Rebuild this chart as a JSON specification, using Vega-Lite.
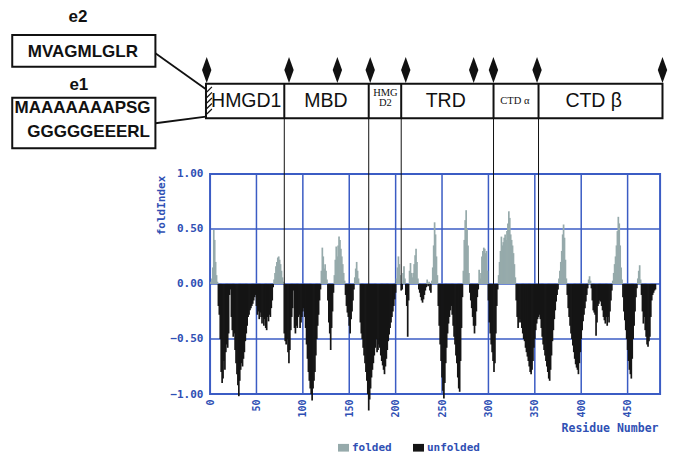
{
"$schema": "https://vega.github.io/schema/vega-lite/v6.json",
"width": 679, "height": 394,
"autosize": {"type": "none"},
"padding": {"left": 0, "top": 0, "right": 0, "bottom": 65},
"background": "white",
"config": {"view": {"stroke": null}},
"datasets": {
"fold": [
{"r":1,"v":0.02,"s":"folded"},{"r":2,"v":0.05,"s":"folded"},{"r":3,"v":0.15,"s":"folded"},{"r":4,"v":0.49,"s":"folded"},{"r":5,"v":0.4,"s":"folded"},{"r":6,"v":0.2,"s":"folded"},{"r":7,"v":0.08,"s":"folded"},{"r":8,"v":0.02,"s":"folded"},{"r":9,"v":-0.2,"s":"unfolded"},{"r":10,"v":-0.28,"s":"unfolded"},
{"r":11,"v":-0.5,"s":"unfolded"},{"r":12,"v":-0.8,"s":"unfolded"},{"r":13,"v":-0.9,"s":"unfolded"},{"r":14,"v":-0.86,"s":"unfolded"},{"r":15,"v":-0.7,"s":"unfolded"},{"r":16,"v":-0.78,"s":"unfolded"},{"r":17,"v":-0.62,"s":"unfolded"},{"r":18,"v":-0.55,"s":"unfolded"},{"r":19,"v":-0.58,"s":"unfolded"},{"r":20,"v":-0.45,"s":"unfolded"},
{"r":21,"v":-0.1,"s":"unfolded"},{"r":22,"v":-0.05,"s":"unfolded"},{"r":23,"v":-0.3,"s":"unfolded"},{"r":24,"v":-0.42,"s":"unfolded"},{"r":25,"v":-0.48,"s":"unfolded"},{"r":26,"v":-0.45,"s":"unfolded"},{"r":27,"v":-0.6,"s":"unfolded"},{"r":28,"v":-0.72,"s":"unfolded"},{"r":29,"v":-0.82,"s":"unfolded"},{"r":30,"v":-0.92,"s":"unfolded"},
{"r":31,"v":-1.02,"s":"unfolded"},{"r":32,"v":-0.88,"s":"unfolded"},{"r":33,"v":-0.78,"s":"unfolded"},{"r":34,"v":-0.72,"s":"unfolded"},{"r":35,"v":-0.75,"s":"unfolded"},{"r":36,"v":-0.68,"s":"unfolded"},{"r":37,"v":-0.62,"s":"unfolded"},{"r":38,"v":-0.52,"s":"unfolded"},{"r":39,"v":-0.45,"s":"unfolded"},{"r":40,"v":-0.38,"s":"unfolded"},
{"r":41,"v":-0.3,"s":"unfolded"},{"r":42,"v":-0.28,"s":"unfolded"},{"r":43,"v":-0.24,"s":"unfolded"},{"r":44,"v":-0.22,"s":"unfolded"},{"r":45,"v":-0.2,"s":"unfolded"},{"r":46,"v":-0.18,"s":"unfolded"},{"r":47,"v":-0.15,"s":"unfolded"},{"r":48,"v":-0.12,"s":"unfolded"},{"r":49,"v":-0.1,"s":"unfolded"},{"r":50,"v":-0.2,"s":"unfolded"},
{"r":51,"v":-0.28,"s":"unfolded"},{"r":52,"v":-0.25,"s":"unfolded"},{"r":53,"v":-0.32,"s":"unfolded"},{"r":54,"v":-0.26,"s":"unfolded"},{"r":55,"v":-0.3,"s":"unfolded"},{"r":56,"v":-0.36,"s":"unfolded"},{"r":57,"v":-0.3,"s":"unfolded"},{"r":58,"v":-0.38,"s":"unfolded"},{"r":59,"v":-0.32,"s":"unfolded"},{"r":60,"v":-0.4,"s":"unfolded"},
{"r":61,"v":-0.42,"s":"unfolded"},{"r":62,"v":-0.3,"s":"unfolded"},{"r":63,"v":-0.34,"s":"unfolded"},{"r":64,"v":-0.28,"s":"unfolded"},{"r":65,"v":-0.3,"s":"unfolded"},{"r":66,"v":-0.22,"s":"unfolded"},{"r":67,"v":-0.15,"s":"unfolded"},{"r":68,"v":-0.03,"s":"unfolded"},{"r":69,"v":0.04,"s":"folded"},{"r":70,"v":0.1,"s":"folded"},
{"r":71,"v":0.16,"s":"folded"},{"r":72,"v":0.2,"s":"folded"},{"r":73,"v":0.24,"s":"folded"},{"r":74,"v":0.25,"s":"folded"},{"r":75,"v":0.22,"s":"folded"},{"r":76,"v":0.18,"s":"folded"},{"r":77,"v":0.12,"s":"folded"},{"r":78,"v":0.06,"s":"folded"},{"r":79,"v":0.02,"s":"folded"},{"r":80,"v":-0.45,"s":"unfolded"},
{"r":81,"v":-0.52,"s":"unfolded"},{"r":82,"v":-0.55,"s":"unfolded"},{"r":83,"v":-0.5,"s":"unfolded"},{"r":84,"v":-0.62,"s":"unfolded"},{"r":85,"v":-0.72,"s":"unfolded"},{"r":86,"v":-0.6,"s":"unfolded"},{"r":87,"v":-0.42,"s":"unfolded"},{"r":88,"v":-0.3,"s":"unfolded"},{"r":89,"v":-0.22,"s":"unfolded"},{"r":90,"v":-0.06,"s":"unfolded"},
{"r":91,"v":-0.4,"s":"unfolded"},{"r":92,"v":-0.45,"s":"unfolded"},{"r":93,"v":-0.38,"s":"unfolded"},{"r":94,"v":-0.4,"s":"unfolded"},{"r":95,"v":-0.3,"s":"unfolded"},{"r":96,"v":-0.28,"s":"unfolded"},{"r":97,"v":-0.4,"s":"unfolded"},{"r":98,"v":-0.35,"s":"unfolded"},{"r":99,"v":-0.3,"s":"unfolded"},{"r":100,"v":-0.25,"s":"unfolded"},
{"r":101,"v":-0.22,"s":"unfolded"},{"r":102,"v":-0.3,"s":"unfolded"},{"r":103,"v":-0.4,"s":"unfolded"},{"r":104,"v":-0.55,"s":"unfolded"},{"r":105,"v":-0.68,"s":"unfolded"},{"r":106,"v":-0.8,"s":"unfolded"},{"r":107,"v":-0.88,"s":"unfolded"},{"r":108,"v":-0.95,"s":"unfolded"},{"r":109,"v":-1.0,"s":"unfolded"},{"r":110,"v":-1.06,"s":"unfolded"},
{"r":111,"v":-0.95,"s":"unfolded"},{"r":112,"v":-0.88,"s":"unfolded"},{"r":113,"v":-0.8,"s":"unfolded"},{"r":114,"v":-0.65,"s":"unfolded"},{"r":115,"v":-0.5,"s":"unfolded"},{"r":116,"v":-0.38,"s":"unfolded"},{"r":117,"v":-0.28,"s":"unfolded"},{"r":118,"v":-0.15,"s":"unfolded"},{"r":119,"v":-0.05,"s":"unfolded"},{"r":120,"v":0.12,"s":"folded"},
{"r":121,"v":0.33,"s":"folded"},{"r":122,"v":0.25,"s":"folded"},{"r":123,"v":0.14,"s":"folded"},{"r":124,"v":0.18,"s":"folded"},{"r":125,"v":0.12,"s":"folded"},{"r":126,"v":0.04,"s":"folded"},{"r":127,"v":-0.15,"s":"unfolded"},{"r":128,"v":-0.35,"s":"unfolded"},{"r":129,"v":-0.45,"s":"unfolded"},{"r":130,"v":-0.6,"s":"unfolded"},
{"r":131,"v":-0.4,"s":"unfolded"},{"r":132,"v":-0.25,"s":"unfolded"},{"r":133,"v":-0.08,"s":"unfolded"},{"r":134,"v":0.08,"s":"folded"},{"r":135,"v":0.22,"s":"folded"},{"r":136,"v":0.34,"s":"folded"},{"r":137,"v":0.25,"s":"folded"},{"r":138,"v":0.35,"s":"folded"},{"r":139,"v":0.43,"s":"folded"},{"r":140,"v":0.4,"s":"folded"},
{"r":141,"v":0.32,"s":"folded"},{"r":142,"v":0.25,"s":"folded"},{"r":143,"v":0.18,"s":"folded"},{"r":144,"v":0.1,"s":"folded"},{"r":145,"v":0.03,"s":"folded"},{"r":146,"v":-0.1,"s":"unfolded"},{"r":147,"v":-0.2,"s":"unfolded"},{"r":148,"v":-0.26,"s":"unfolded"},{"r":149,"v":-0.3,"s":"unfolded"},{"r":150,"v":-0.38,"s":"unfolded"},
{"r":151,"v":-0.45,"s":"unfolded"},{"r":152,"v":-0.32,"s":"unfolded"},{"r":153,"v":-0.25,"s":"unfolded"},{"r":154,"v":-0.15,"s":"unfolded"},{"r":155,"v":-0.05,"s":"unfolded"},{"r":156,"v":0.06,"s":"folded"},{"r":157,"v":0.14,"s":"folded"},{"r":158,"v":0.2,"s":"folded"},{"r":159,"v":0.12,"s":"folded"},{"r":160,"v":0.05,"s":"folded"},
{"r":161,"v":0.01,"s":"folded"},{"r":162,"v":-0.35,"s":"unfolded"},{"r":163,"v":-0.45,"s":"unfolded"},{"r":164,"v":-0.5,"s":"unfolded"},{"r":165,"v":-0.58,"s":"unfolded"},{"r":166,"v":-0.65,"s":"unfolded"},{"r":167,"v":-0.72,"s":"unfolded"},{"r":168,"v":-0.8,"s":"unfolded"},{"r":169,"v":-0.88,"s":"unfolded"},{"r":170,"v":-1.0,"s":"unfolded"},
{"r":171,"v":-1.15,"s":"unfolded"},{"r":172,"v":-1.05,"s":"unfolded"},{"r":173,"v":-0.95,"s":"unfolded"},{"r":174,"v":-0.85,"s":"unfolded"},{"r":175,"v":-0.78,"s":"unfolded"},{"r":176,"v":-0.72,"s":"unfolded"},{"r":177,"v":-0.65,"s":"unfolded"},{"r":178,"v":-0.58,"s":"unfolded"},{"r":179,"v":-0.5,"s":"unfolded"},{"r":180,"v":-0.62,"s":"unfolded"},
{"r":181,"v":-0.6,"s":"unfolded"},{"r":182,"v":-0.55,"s":"unfolded"},{"r":183,"v":-0.58,"s":"unfolded"},{"r":184,"v":-0.65,"s":"unfolded"},{"r":185,"v":-0.7,"s":"unfolded"},{"r":186,"v":-0.74,"s":"unfolded"},{"r":187,"v":-0.78,"s":"unfolded"},{"r":188,"v":-0.82,"s":"unfolded"},{"r":189,"v":-0.75,"s":"unfolded"},{"r":190,"v":-0.68,"s":"unfolded"},
{"r":191,"v":-0.6,"s":"unfolded"},{"r":192,"v":-0.52,"s":"unfolded"},{"r":193,"v":-0.46,"s":"unfolded"},{"r":194,"v":-0.4,"s":"unfolded"},{"r":195,"v":-0.35,"s":"unfolded"},{"r":196,"v":-0.3,"s":"unfolded"},{"r":197,"v":-0.25,"s":"unfolded"},{"r":198,"v":-0.2,"s":"unfolded"},{"r":199,"v":-0.14,"s":"unfolded"},{"r":200,"v":-0.08,"s":"unfolded"},
{"r":201,"v":0.05,"s":"folded"},{"r":202,"v":0.15,"s":"folded"},{"r":203,"v":0.25,"s":"folded"},{"r":204,"v":0.18,"s":"folded"},{"r":205,"v":0.08,"s":"folded"},{"r":206,"v":-0.06,"s":"unfolded"},{"r":207,"v":-0.05,"s":"unfolded"},{"r":208,"v":0.1,"s":"folded"},{"r":209,"v":0.16,"s":"folded"},{"r":210,"v":0.05,"s":"folded"},
{"r":211,"v":-0.1,"s":"unfolded"},{"r":212,"v":-0.2,"s":"unfolded"},{"r":213,"v":-0.48,"s":"unfolded"},{"r":214,"v":-0.15,"s":"unfolded"},{"r":215,"v":0.12,"s":"folded"},{"r":216,"v":0.19,"s":"folded"},{"r":217,"v":0.1,"s":"folded"},{"r":218,"v":0.06,"s":"folded"},{"r":219,"v":0.1,"s":"folded"},{"r":220,"v":0.18,"s":"folded"},
{"r":221,"v":0.26,"s":"folded"},{"r":222,"v":0.32,"s":"folded"},{"r":223,"v":0.2,"s":"folded"},{"r":224,"v":0.05,"s":"folded"},{"r":225,"v":-0.05,"s":"unfolded"},{"r":226,"v":-0.08,"s":"unfolded"},{"r":227,"v":-0.12,"s":"unfolded"},{"r":228,"v":-0.15,"s":"unfolded"},{"r":229,"v":-0.17,"s":"unfolded"},{"r":230,"v":-0.14,"s":"unfolded"},
{"r":231,"v":-0.1,"s":"unfolded"},{"r":232,"v":-0.06,"s":"unfolded"},{"r":233,"v":-0.03,"s":"unfolded"},{"r":234,"v":0.04,"s":"folded"},{"r":235,"v":-0.02,"s":"unfolded"},{"r":236,"v":0.02,"s":"folded"},{"r":237,"v":-0.06,"s":"unfolded"},{"r":238,"v":-0.08,"s":"unfolded"},{"r":239,"v":0.03,"s":"folded"},{"r":240,"v":0.15,"s":"folded"},
{"r":241,"v":0.35,"s":"folded"},{"r":242,"v":0.56,"s":"folded"},{"r":243,"v":0.45,"s":"folded"},{"r":244,"v":0.25,"s":"folded"},{"r":245,"v":0.08,"s":"folded"},{"r":246,"v":-0.2,"s":"unfolded"},{"r":247,"v":-0.38,"s":"unfolded"},{"r":248,"v":-0.55,"s":"unfolded"},{"r":249,"v":-0.7,"s":"unfolded"},{"r":250,"v":-0.85,"s":"unfolded"},
{"r":251,"v":-0.97,"s":"unfolded"},{"r":252,"v":-1.04,"s":"unfolded"},{"r":253,"v":-0.9,"s":"unfolded"},{"r":254,"v":-0.72,"s":"unfolded"},{"r":255,"v":-0.58,"s":"unfolded"},{"r":256,"v":-0.45,"s":"unfolded"},{"r":257,"v":-0.36,"s":"unfolded"},{"r":258,"v":-0.3,"s":"unfolded"},{"r":259,"v":-0.24,"s":"unfolded"},{"r":260,"v":-0.2,"s":"unfolded"},
{"r":261,"v":-0.28,"s":"unfolded"},{"r":262,"v":-0.38,"s":"unfolded"},{"r":263,"v":-0.48,"s":"unfolded"},{"r":264,"v":-0.55,"s":"unfolded"},{"r":265,"v":-0.65,"s":"unfolded"},{"r":266,"v":-0.72,"s":"unfolded"},{"r":267,"v":-0.85,"s":"unfolded"},{"r":268,"v":-0.95,"s":"unfolded"},{"r":269,"v":-0.98,"s":"unfolded"},{"r":270,"v":-0.7,"s":"unfolded"},
{"r":271,"v":-0.4,"s":"unfolded"},{"r":272,"v":-0.12,"s":"unfolded"},{"r":273,"v":0.12,"s":"folded"},{"r":274,"v":0.4,"s":"folded"},{"r":275,"v":0.58,"s":"folded"},{"r":276,"v":0.67,"s":"folded"},{"r":277,"v":0.5,"s":"folded"},{"r":278,"v":0.35,"s":"folded"},{"r":279,"v":0.1,"s":"folded"},{"r":280,"v":-0.08,"s":"unfolded"},
{"r":281,"v":-0.15,"s":"unfolded"},{"r":282,"v":-0.22,"s":"unfolded"},{"r":283,"v":-0.3,"s":"unfolded"},{"r":284,"v":-0.38,"s":"unfolded"},{"r":285,"v":-0.45,"s":"unfolded"},{"r":286,"v":-0.38,"s":"unfolded"},{"r":287,"v":-0.25,"s":"unfolded"},{"r":288,"v":-0.12,"s":"unfolded"},{"r":289,"v":-0.05,"s":"unfolded"},{"r":290,"v":0.13,"s":"folded"},
{"r":291,"v":0.05,"s":"folded"},{"r":292,"v":0.1,"s":"folded"},{"r":293,"v":0.25,"s":"folded"},{"r":294,"v":0.3,"s":"folded"},{"r":295,"v":0.33,"s":"folded"},{"r":296,"v":0.32,"s":"folded"},{"r":297,"v":0.28,"s":"folded"},{"r":298,"v":0.3,"s":"folded"},{"r":299,"v":0.12,"s":"folded"},{"r":300,"v":-0.15,"s":"unfolded"},
{"r":301,"v":-0.35,"s":"unfolded"},{"r":302,"v":-0.45,"s":"unfolded"},{"r":303,"v":-0.55,"s":"unfolded"},{"r":304,"v":-0.62,"s":"unfolded"},{"r":305,"v":-0.7,"s":"unfolded"},{"r":306,"v":-0.8,"s":"unfolded"},{"r":307,"v":-0.72,"s":"unfolded"},{"r":308,"v":-0.45,"s":"unfolded"},{"r":309,"v":-0.2,"s":"unfolded"},{"r":310,"v":-0.05,"s":"unfolded"},
{"r":311,"v":0.08,"s":"folded"},{"r":312,"v":0.2,"s":"folded"},{"r":313,"v":0.3,"s":"folded"},{"r":314,"v":0.43,"s":"folded"},{"r":315,"v":0.35,"s":"folded"},{"r":316,"v":0.38,"s":"folded"},{"r":317,"v":0.42,"s":"folded"},{"r":318,"v":0.45,"s":"folded"},{"r":319,"v":0.4,"s":"folded"},{"r":320,"v":0.48,"s":"folded"},
{"r":321,"v":0.55,"s":"folded"},{"r":322,"v":0.66,"s":"folded"},{"r":323,"v":0.6,"s":"folded"},{"r":324,"v":0.45,"s":"folded"},{"r":325,"v":0.4,"s":"folded"},{"r":326,"v":0.35,"s":"folded"},{"r":327,"v":0.28,"s":"folded"},{"r":328,"v":0.18,"s":"folded"},{"r":329,"v":0.06,"s":"folded"},{"r":330,"v":-0.15,"s":"unfolded"},
{"r":331,"v":-0.3,"s":"unfolded"},{"r":332,"v":-0.4,"s":"unfolded"},{"r":333,"v":-0.35,"s":"unfolded"},{"r":334,"v":-0.32,"s":"unfolded"},{"r":335,"v":-0.35,"s":"unfolded"},{"r":336,"v":-0.4,"s":"unfolded"},{"r":337,"v":-0.45,"s":"unfolded"},{"r":338,"v":-0.5,"s":"unfolded"},{"r":339,"v":-0.52,"s":"unfolded"},{"r":340,"v":-0.58,"s":"unfolded"},
{"r":341,"v":-0.62,"s":"unfolded"},{"r":342,"v":-0.66,"s":"unfolded"},{"r":343,"v":-0.7,"s":"unfolded"},{"r":344,"v":-0.75,"s":"unfolded"},{"r":345,"v":-0.8,"s":"unfolded"},{"r":346,"v":-0.82,"s":"unfolded"},{"r":347,"v":-0.78,"s":"unfolded"},{"r":348,"v":-0.7,"s":"unfolded"},{"r":349,"v":-0.58,"s":"unfolded"},{"r":350,"v":-0.5,"s":"unfolded"},
{"r":351,"v":-0.42,"s":"unfolded"},{"r":352,"v":-0.36,"s":"unfolded"},{"r":353,"v":-0.32,"s":"unfolded"},{"r":354,"v":-0.3,"s":"unfolded"},{"r":355,"v":-0.28,"s":"unfolded"},{"r":356,"v":-0.32,"s":"unfolded"},{"r":357,"v":-0.4,"s":"unfolded"},{"r":358,"v":-0.48,"s":"unfolded"},{"r":359,"v":-0.55,"s":"unfolded"},{"r":360,"v":-0.6,"s":"unfolded"},
{"r":361,"v":-0.65,"s":"unfolded"},{"r":362,"v":-0.7,"s":"unfolded"},{"r":363,"v":-0.75,"s":"unfolded"},{"r":364,"v":-0.8,"s":"unfolded"},{"r":365,"v":-0.86,"s":"unfolded"},{"r":366,"v":-0.88,"s":"unfolded"},{"r":367,"v":-0.78,"s":"unfolded"},{"r":368,"v":-0.65,"s":"unfolded"},{"r":369,"v":-0.52,"s":"unfolded"},{"r":370,"v":-0.42,"s":"unfolded"},
{"r":371,"v":-0.32,"s":"unfolded"},{"r":372,"v":-0.24,"s":"unfolded"},{"r":373,"v":-0.16,"s":"unfolded"},{"r":374,"v":-0.1,"s":"unfolded"},{"r":375,"v":-0.05,"s":"unfolded"},{"r":376,"v":0.05,"s":"folded"},{"r":377,"v":0.12,"s":"folded"},{"r":378,"v":0.2,"s":"folded"},{"r":379,"v":0.3,"s":"folded"},{"r":380,"v":0.45,"s":"folded"},
{"r":381,"v":0.54,"s":"folded"},{"r":382,"v":0.42,"s":"folded"},{"r":383,"v":0.22,"s":"folded"},{"r":384,"v":0.05,"s":"folded"},{"r":385,"v":-0.1,"s":"unfolded"},{"r":386,"v":-0.22,"s":"unfolded"},{"r":387,"v":-0.3,"s":"unfolded"},{"r":388,"v":-0.38,"s":"unfolded"},{"r":389,"v":-0.45,"s":"unfolded"},{"r":390,"v":-0.5,"s":"unfolded"},
{"r":391,"v":-0.56,"s":"unfolded"},{"r":392,"v":-0.62,"s":"unfolded"},{"r":393,"v":-0.68,"s":"unfolded"},{"r":394,"v":-0.73,"s":"unfolded"},{"r":395,"v":-0.76,"s":"unfolded"},{"r":396,"v":-0.78,"s":"unfolded"},{"r":397,"v":-0.82,"s":"unfolded"},{"r":398,"v":-0.72,"s":"unfolded"},{"r":399,"v":-0.62,"s":"unfolded"},{"r":400,"v":-0.5,"s":"unfolded"},
{"r":401,"v":-0.42,"s":"unfolded"},{"r":402,"v":-0.34,"s":"unfolded"},{"r":403,"v":-0.28,"s":"unfolded"},{"r":404,"v":-0.22,"s":"unfolded"},{"r":405,"v":-0.16,"s":"unfolded"},{"r":406,"v":-0.1,"s":"unfolded"},{"r":407,"v":-0.04,"s":"unfolded"},{"r":408,"v":0.04,"s":"folded"},{"r":409,"v":0.07,"s":"folded"},{"r":410,"v":0.03,"s":"folded"},
{"r":411,"v":-0.04,"s":"unfolded"},{"r":412,"v":-0.15,"s":"unfolded"},{"r":413,"v":-0.24,"s":"unfolded"},{"r":414,"v":-0.26,"s":"unfolded"},{"r":415,"v":-0.28,"s":"unfolded"},{"r":416,"v":-0.47,"s":"unfolded"},{"r":417,"v":-0.35,"s":"unfolded"},{"r":418,"v":-0.2,"s":"unfolded"},{"r":419,"v":-0.18,"s":"unfolded"},{"r":420,"v":-0.15,"s":"unfolded"},
{"r":421,"v":-0.16,"s":"unfolded"},{"r":422,"v":-0.2,"s":"unfolded"},{"r":423,"v":-0.24,"s":"unfolded"},{"r":424,"v":-0.3,"s":"unfolded"},{"r":425,"v":-0.33,"s":"unfolded"},{"r":426,"v":-0.36,"s":"unfolded"},{"r":427,"v":-0.3,"s":"unfolded"},{"r":428,"v":-0.38,"s":"unfolded"},{"r":429,"v":-0.3,"s":"unfolded"},{"r":430,"v":-0.35,"s":"unfolded"},
{"r":431,"v":-0.25,"s":"unfolded"},{"r":432,"v":-0.15,"s":"unfolded"},{"r":433,"v":-0.06,"s":"unfolded"},{"r":434,"v":0.03,"s":"folded"},{"r":435,"v":0.1,"s":"folded"},{"r":436,"v":0.18,"s":"folded"},{"r":437,"v":0.25,"s":"folded"},{"r":438,"v":0.35,"s":"folded"},{"r":439,"v":0.48,"s":"folded"},{"r":440,"v":0.61,"s":"folded"},
{"r":441,"v":0.55,"s":"folded"},{"r":442,"v":0.35,"s":"folded"},{"r":443,"v":0.15,"s":"folded"},{"r":444,"v":0.04,"s":"folded"},{"r":445,"v":-0.12,"s":"unfolded"},{"r":446,"v":-0.25,"s":"unfolded"},{"r":447,"v":-0.33,"s":"unfolded"},{"r":448,"v":-0.42,"s":"unfolded"},{"r":449,"v":-0.5,"s":"unfolded"},{"r":450,"v":-0.6,"s":"unfolded"},
{"r":451,"v":-0.7,"s":"unfolded"},{"r":452,"v":-0.78,"s":"unfolded"},{"r":453,"v":-0.82,"s":"unfolded"},{"r":454,"v":-0.86,"s":"unfolded"},{"r":455,"v":-0.68,"s":"unfolded"},{"r":456,"v":-0.5,"s":"unfolded"},{"r":457,"v":-0.38,"s":"unfolded"},{"r":458,"v":-0.25,"s":"unfolded"},{"r":459,"v":-0.12,"s":"unfolded"},{"r":460,"v":-0.04,"s":"unfolded"},
{"r":461,"v":0.05,"s":"folded"},{"r":462,"v":0.12,"s":"folded"},{"r":463,"v":0.17,"s":"folded"},{"r":464,"v":0.04,"s":"folded"},{"r":465,"v":-0.1,"s":"unfolded"},{"r":466,"v":-0.25,"s":"unfolded"},{"r":467,"v":-0.36,"s":"unfolded"},{"r":468,"v":-0.3,"s":"unfolded"},{"r":469,"v":-0.42,"s":"unfolded"},{"r":470,"v":-0.48,"s":"unfolded"},
{"r":471,"v":-0.55,"s":"unfolded"},{"r":472,"v":-0.57,"s":"unfolded"},{"r":473,"v":-0.52,"s":"unfolded"},{"r":474,"v":-0.48,"s":"unfolded"},{"r":475,"v":-0.3,"s":"unfolded"},{"r":476,"v":-0.15,"s":"unfolded"},{"r":477,"v":-0.1,"s":"unfolded"},{"r":478,"v":-0.08,"s":"unfolded"},{"r":479,"v":-0.06,"s":"unfolded"},{"r":480,"v":-0.05,"s":"unfolded"}
],
"vgrid": [{"g":50},{"g":100},{"g":150},{"g":200},{"g":250},{"g":300},{"g":350},{"g":400},{"g":450}],
"hgrid": [{"h":-0.5},{"h":0},{"h":0.5}],
"bounds": [{"b":80},{"b":171},{"b":206},{"b":305.5},{"b":354}],
"sites": [{"d":-3.6},{"d":85.1},{"d":137.2},{"d":172.6},{"d":210.9},{"d":284.1},{"d":305.4},{"d":352.4},{"d":487.6}],
"hatch": [{"x":-3.5,"y":1.744,"x2":2,"y2":1.79},{"x":-3.5,"y":1.694,"x2":2,"y2":1.74},{"x":-3.5,"y":1.644,"x2":2,"y2":1.69},{"x":-3.5,"y":1.594,"x2":2,"y2":1.64},{"x":-3.5,"y":1.544,"x2":2,"y2":1.59}],
"domains": [{"x":39,"y":1.665,"t":"HMGD1"},{"x":125,"y":1.665,"t":"MBD"},{"x":254,"y":1.665,"t":"TRD"},{"x":413.5,"y":1.665,"t":"CTD β"}],
"small": [{"x":189,"y":1.735,"t":"HMG"},{"x":189,"y":1.64,"t":"D2"},{"x":328.5,"y":1.665,"t":"CTD α"}],
"boxes": [{"x":-213.2,"x2":-58.9,"y":1.974,"y2":2.262},{"x":-213.2,"x2":-58.9,"y":1.2325,"y2":1.692}],
"links": [{"x":-58.9,"y":2.096,"x2":-4.4,"y2":1.769},{"x":-58.9,"y":1.46,"x2":-4.4,"y2":1.52}],
"seqs": [{"x":-137.1,"y":2.103,"t":"MVAGMLGLR"},{"x":-137.4,"y":1.603,"t":"MAAAAAAAPSG"},{"x":-130.9,"y":1.381,"t":"GGGGGEEERL"},{"x":-142.4,"y":2.421,"t":"e2"},{"x":-141.4,"y":1.808,"t":"e1"}]
},
"layer": [
{"data": {"name": "vgrid"}, "mark": {"type": "rule", "color": "#3b5cc4", "strokeWidth": 1.5},
 "encoding": {"x": {"field": "g", "type": "quantitative", "scale": {"domain": [-221, 500], "nice": false, "zero": false}},
  "y": {"datum": -1, "type": "quantitative", "scale": {"domain": [-1, 2.58], "nice": false, "zero": false}}, "y2": {"datum": 1}}},
{"data": {"name": "hgrid"}, "mark": {"type": "rule", "color": "#3b5cc4", "strokeWidth": 1.5},
 "encoding": {"y": {"field": "h", "type": "quantitative", "scale": {"domain": [-1, 2.58], "nice": false, "zero": false}},
  "x": {"datum": 0, "type": "quantitative", "scale": {"domain": [-221, 500], "nice": false, "zero": false}}, "x2": {"datum": 485}}},
{"data": {"values": [{}]}, "mark": {"type": "rect", "fill": null, "fillOpacity": 0, "stroke": "#3b5cc4", "strokeWidth": 2},
 "encoding": {"x": {"datum": 0, "type": "quantitative", "scale": {"domain": [-221, 500], "nice": false, "zero": false}}, "x2": {"datum": 485},
  "y": {"datum": -1, "type": "quantitative", "scale": {"domain": [-1, 2.58], "nice": false, "zero": false}}, "y2": {"datum": 1}}},
{"data": {"name": "fold"}, "mark": {"type": "bar", "orient": "vertical", "width": 1.7},
 "encoding": {
  "x": {"field": "r", "type": "quantitative", "scale": {"domain": [-221, 500], "nice": false, "zero": false},
   "axis": {"values": [0, 50, 100, 150, 200, 250, 300, 350, 400, 450], "format": "d", "grid": false, "domain": false, "ticks": false, "tickSize": 0,
    "labelAngle": -90, "labelAlign": "right", "labelBaseline": "middle", "labelPadding": 5, "labelFlush": false, "labelOverlap": false,
    "labelFont": "DejaVu Sans Mono", "labelFontWeight": "bold", "labelFontSize": 10, "labelColor": "#2f50b4",
    "title": "Residue Number", "titleFont": "DejaVu Sans Mono", "titleFontWeight": "bold", "titleFontSize": 11.5, "titleColor": "#2f50b4",
    "titleX": 658, "titleY": 34, "titleAlign": "right", "titleBaseline": "middle"}},
  "y": {"field": "v", "type": "quantitative", "stack": null, "scale": {"domain": [-1, 2.58], "nice": false, "zero": false},
   "axis": {"values": [-1, -0.5, 0, 0.5, 1], "format": ".2f", "grid": false, "domain": false, "ticks": false, "tickSize": 0, "offset": -208,
    "labelPadding": 5, "labelFont": "DejaVu Sans Mono", "labelFontWeight": "bold", "labelFontSize": 11, "labelColor": "#2f50b4", "labelFlush": false, "labelOverlap": false,
    "title": "foldIndex", "titleFont": "DejaVu Sans Mono", "titleFontWeight": "bold", "titleFontSize": 11, "titleColor": "#2f50b4",
    "titleX": -47, "titleY": 205, "titleAlign": "center", "titleBaseline": "middle", "titleAngle": -90}},
  "y2": {"datum": 0},
  "color": {"field": "s", "type": "nominal", "scale": {"domain": ["folded", "unfolded"], "range": ["#96aaab", "#151515"]},
   "legend": {"orient": "none", "legendX": 338, "legendY": 442, "direction": "horizontal", "title": null, "padding": 0,
    "symbolType": "M-1,-0.7H1V0.7H-1Z", "symbolSize": 121, "symbolStrokeWidth": 0, "labelOffset": 3, "columnPadding": 21,
    "labelFont": "DejaVu Sans Mono", "labelFontWeight": "bold", "labelFontSize": 11, "labelColor": "#2f50b4"}}}},
{"data": {"name": "bounds"}, "mark": {"type": "rule", "color": "#111111", "strokeWidth": 1},
 "encoding": {"x": {"field": "b", "type": "quantitative", "scale": {"domain": [-221, 500], "nice": false, "zero": false}},
  "y": {"datum": 0, "type": "quantitative", "scale": {"domain": [-1, 2.58], "nice": false, "zero": false}}, "y2": {"datum": 1.505}}},
{"data": {"values": [{}]}, "mark": {"type": "rect", "fill": "white", "stroke": "#111111", "strokeWidth": 2},
 "encoding": {"x": {"datum": -4.4, "type": "quantitative", "scale": {"domain": [-221, 500], "nice": false, "zero": false}}, "x2": {"datum": 487.6},
  "y": {"datum": 1.505, "type": "quantitative", "scale": {"domain": [-1, 2.58], "nice": false, "zero": false}}, "y2": {"datum": 1.82}}},
{"data": {"name": "bounds"}, "mark": {"type": "rule", "color": "#111111", "strokeWidth": 2},
 "encoding": {"x": {"field": "b", "type": "quantitative", "scale": {"domain": [-221, 500], "nice": false, "zero": false}},
  "y": {"datum": 1.505, "type": "quantitative", "scale": {"domain": [-1, 2.58], "nice": false, "zero": false}}, "y2": {"datum": 1.82}}},
{"data": {"name": "hatch"}, "mark": {"type": "rule", "color": "#111111", "strokeWidth": 1.2},
 "encoding": {"x": {"field": "x", "type": "quantitative", "scale": {"domain": [-221, 500], "nice": false, "zero": false}}, "x2": {"field": "x2"},
  "y": {"field": "y", "type": "quantitative", "scale": {"domain": [-1, 2.58], "nice": false, "zero": false}}, "y2": {"field": "y2"}}},
{"data": {"name": "sites"}, "mark": {"type": "point", "filled": true, "shape": "M0,-1L0.36,0L0,1L-0.36,0Z", "size": 676, "color": "#111111", "opacity": 1},
 "encoding": {"x": {"field": "d", "type": "quantitative", "scale": {"domain": [-221, 500], "nice": false, "zero": false}},
  "y": {"datum": 1.944, "type": "quantitative", "scale": {"domain": [-1, 2.58], "nice": false, "zero": false}}}},
{"data": {"name": "domains"}, "mark": {"type": "text", "font": "Liberation Sans", "fontSize": 19.5, "color": "#111111", "align": "center", "baseline": "middle"},
 "encoding": {"x": {"field": "x", "type": "quantitative", "scale": {"domain": [-221, 500], "nice": false, "zero": false}},
  "y": {"field": "y", "type": "quantitative", "scale": {"domain": [-1, 2.58], "nice": false, "zero": false}}, "text": {"field": "t"}}},
{"data": {"name": "small"}, "mark": {"type": "text", "font": "Liberation Serif", "fontSize": 10.5, "color": "#111111", "align": "center", "baseline": "middle"},
 "encoding": {"x": {"field": "x", "type": "quantitative", "scale": {"domain": [-221, 500], "nice": false, "zero": false}},
  "y": {"field": "y", "type": "quantitative", "scale": {"domain": [-1, 2.58], "nice": false, "zero": false}}, "text": {"field": "t"}}},
{"data": {"name": "boxes"}, "mark": {"type": "rect", "fill": "white", "stroke": "#111111", "strokeWidth": 2},
 "encoding": {"x": {"field": "x", "type": "quantitative", "scale": {"domain": [-221, 500], "nice": false, "zero": false}}, "x2": {"field": "x2"},
  "y": {"field": "y", "type": "quantitative", "scale": {"domain": [-1, 2.58], "nice": false, "zero": false}}, "y2": {"field": "y2"}}},
{"data": {"name": "links"}, "mark": {"type": "rule", "color": "#111111", "strokeWidth": 1.8},
 "encoding": {"x": {"field": "x", "type": "quantitative", "scale": {"domain": [-221, 500], "nice": false, "zero": false}}, "x2": {"field": "x2"},
  "y": {"field": "y", "type": "quantitative", "scale": {"domain": [-1, 2.58], "nice": false, "zero": false}}, "y2": {"field": "y2"}}},
{"data": {"name": "seqs"}, "mark": {"type": "text", "font": "Liberation Sans", "fontWeight": "bold", "fontSize": 17, "color": "#111111", "align": "center", "baseline": "middle"},
 "encoding": {"x": {"field": "x", "type": "quantitative", "scale": {"domain": [-221, 500], "nice": false, "zero": false}},
  "y": {"field": "y", "type": "quantitative", "scale": {"domain": [-1, 2.58], "nice": false, "zero": false}}, "text": {"field": "t"}}}
]
}
